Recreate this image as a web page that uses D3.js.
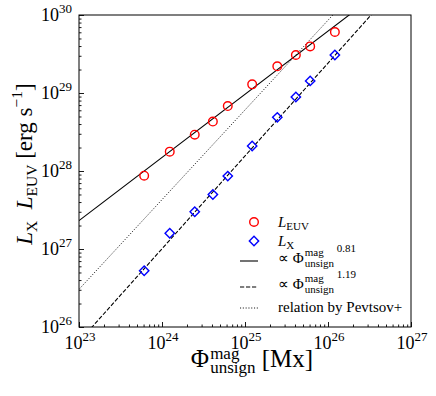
<!DOCTYPE html>
<html>
<head>
<meta charset="utf-8">
<script src="https://cdn.jsdelivr.net/npm/d3@7"></script>
<style>
  html, body { margin: 0; padding: 0; background: #fff; }
</style>
</head>
<body>
<svg id="chart" width="436" height="396"></svg>
<script>
// Unsigned magnetic flux [Mx] of each sample, and the two luminosities [erg/s]
const FLUX  = [6.1e23, 1.24e24, 2.48e24, 4.1e24, 6.2e24, 1.22e25, 2.45e25, 4.1e25, 6.1e25, 1.21e26];
const L_EUV = [8.7e27, 1.77e28, 2.92e28, 4.3e28, 6.8e28, 1.29e29, 2.2e29, 3.07e29, 3.96e29, 6.05e29];
const L_X   = [5.27e26, 1.59e27, 3.0e27, 5.0e27, 8.6e27, 2.09e28, 4.87e28, 8.9e28, 1.43e29, 3.07e29];

// power laws: L = norm * (flux / 1e23)^slope   (euv fit, x fit, Pevtsov+)
const FIT_SLOPE = [0.81, 1.19, 1.15];
const FIT_NORM  = [2.31e27, 6.5e25, 3.04e26];
const FIT_EXP   = ["0.81", "1.19", null];

const X_DECADES = [23, 24, 25, 26, 27];
const Y_DECADES = [26, 27, 28, 29, 30];

// ---------------------------------------------------------------------------
const FONT = "Liberation Serif";
const svg = d3.select("#chart");
const margin = { top: 15, right: 25, bottom: 69, left: 79 };
const W = 436 - margin.left - margin.right;
const H = 396 - margin.top - margin.bottom;

const x = d3.scaleLog().domain([1e23, 1e27]).range([0, W]);
const y = d3.scaleLog().domain([1e26, 1e30]).range([H, 0]);

const g = svg.append("g").attr("transform", `translate(${margin.left},${margin.top})`);

svg.append("defs").append("clipPath").attr("id", "clip")
  .append("rect").attr("width", W).attr("height", H);

// minor ticks 2..9 inside each decade
function minors(decades) {
  const out = [];
  for (let i = 0; i < decades.length - 1; i++)
    for (let k = 2; k <= 9; k++) out.push(k * Math.pow(10, decades[i]));
  return out;
}

function styleAxis(sel) {
  sel.select(".domain").remove();
  sel.selectAll("line").attr("stroke", "#000").attr("stroke-width", 0.9);
}

g.append("g").attr("transform", `translate(0,${H})`)
  .call(d3.axisBottom(x).tickValues(minors(X_DECADES)).tickSize(-2.5).tickFormat(""))
  .call(styleAxis);
g.append("g").attr("transform", `translate(0,${H})`)
  .call(d3.axisBottom(x).tickValues(X_DECADES.map(d => Math.pow(10, d))).tickSize(-5).tickFormat(""))
  .call(styleAxis);
g.append("g")
  .call(d3.axisLeft(y).tickValues(minors(Y_DECADES)).tickSize(-2.5).tickFormat(""))
  .call(styleAxis);
g.append("g")
  .call(d3.axisLeft(y).tickValues(Y_DECADES.map(d => Math.pow(10, d))).tickSize(-5).tickFormat(""))
  .call(styleAxis);

// power-of-ten tick labels
function powLabel(sel, e) {
  sel.attr("font-family", FONT);
  sel.append("tspan").attr("font-size", 18).text("10");
  sel.append("tspan").attr("font-size", 13).attr("dy", -8).text(e);
}
X_DECADES.forEach(e => {
  g.append("text").attr("x", x(Math.pow(10, e)) + 1).attr("y", H + 22)
    .attr("text-anchor", "middle").call(powLabel, e);
});
Y_DECADES.forEach(e => {
  g.append("text").attr("x", -7).attr("y", y(Math.pow(10, e)) + 6)
    .attr("text-anchor", "end").call(powLabel, e);
});

// fit lines
const dashes = [null, "4.2,1.8", "1.1,1.7"];
const lineGen = d3.line().x(d => x(d[0])).y(d => y(d[1]));
const lines = g.append("g").attr("clip-path", "url(#clip)");
FIT_SLOPE.forEach((s, i) => {
  const pts = x.domain().map(f => [f, FIT_NORM[i] * Math.pow(f / 1e23, s)]);
  lines.append("path").attr("d", lineGen(pts))
    .attr("fill", "none").attr("stroke", "#000")
    .attr("stroke-width", i === 2 ? 0.9 : 1.1)
    .attr("stroke-dasharray", dashes[i]);
});

// data markers
const diamond = d3.symbol().type(d3.symbolSquare).size(44);
g.append("g").selectAll("path").data(FLUX.map((f, i) => [f, L_X[i]])).join("path")
  .attr("d", diamond)
  .attr("transform", d => `translate(${x(d[0])},${y(d[1])}) rotate(45)`)
  .attr("fill", "none").attr("stroke", "#0000ff").attr("stroke-width", 1.4);
g.append("g").selectAll("circle").data(FLUX.map((f, i) => [f, L_EUV[i]])).join("circle")
  .attr("cx", d => x(d[0])).attr("cy", d => y(d[1])).attr("r", 4.3)
  .attr("fill", "none").attr("stroke", "#ff0000").attr("stroke-width", 1.4);

// frame
g.append("rect").attr("width", W).attr("height", H)
  .attr("fill", "none").attr("stroke", "#000").attr("stroke-width", 1);

// ---------------------------------------------------------------------------
// little rich-text helper: pieces laid out left to right, `stack` pieces share
// the start x of the piece before them (super + sub stacked)
function rich(parent, x0, y0, pieces) {
  const grp = parent.append("g");
  let cx = x0, lastStart = x0, lastEnd = x0;
  pieces.forEach(p => {
    const start = (p.stack ? lastStart : cx) + (p.dx || 0);
    const t = grp.append("text").attr("x", start).attr("y", y0 + (p.dy || 0))
      .attr("font-family", FONT)
      .attr("font-size", p.s).attr("font-style", p.it ? "italic" : null)
      .attr("xml:space", "preserve").text(p.t);
    const end = start + t.node().getComputedTextLength();
    if (p.stack) { cx = Math.max(lastEnd, end); }
    else { cx = end; }
    lastStart = start; lastEnd = cx;
  });
  grp.width = cx - x0;
  return grp;
}

function phiPieces(big, small, up, down) {
  return [
    { t: "Φ", s: big },
    { t: "mag", s: small, dy: -up, dx: 1 },
    { t: "unsign", s: small, dy: down, stack: true }
  ];
}

// x label
{
  const pieces = phiPieces(25, 17, 8, 6).concat([{ t: " [Mx]", s: 25 }]);
  const lab = rich(svg, 0, 367, pieces);
  lab.attr("transform", `translate(${252 - lab.width / 2},0)`);
}

// y label (rotated)
{
  const lab = rich(svg, 0, 0, [
    { t: "L", s: 23, it: true }, { t: "X", s: 15.5, dy: 5 },
    { t: "  ", s: 23 },
    { t: "L", s: 23, it: true }, { t: "EUV", s: 15.5, dy: 5 },
    { t: " [erg s", s: 23 }, { t: "−1", s: 15.5, dy: -10 }, { t: "]", s: 23 }
  ]);
  lab.attr("transform", `translate(32,${164}) rotate(-90) translate(${-lab.width / 2},0)`);
}

// ---------------------------------------------------------------------------
// legend
const leg = g.append("g");
const lx0 = 254 - margin.left, tx = 278 - margin.left;
const rowY = [222, 241, 261, 287, 308].map(v => v - margin.top);

leg.append("circle").attr("cx", lx0).attr("cy", rowY[0]).attr("r", 4.3)
  .attr("fill", "none").attr("stroke", "#ff0000").attr("stroke-width", 1.4);
leg.append("path").attr("d", diamond)
  .attr("transform", `translate(${lx0},${rowY[1]}) rotate(45)`)
  .attr("fill", "none").attr("stroke", "#0000ff").attr("stroke-width", 1.4);

rich(leg, tx, rowY[0] + 5, [{ t: "L", s: 15, it: true }, { t: "EUV", s: 11, dy: 3 }]);
rich(leg, tx, rowY[1] + 5, [{ t: "L", s: 15, it: true }, { t: "X", s: 11, dy: 3 }]);

FIT_SLOPE.forEach((s, i) => {
  const ry = rowY[2 + i];
  leg.append("line").attr("x1", lx0 - 14).attr("x2", lx0 + 4)
    .attr("y1", ry).attr("y2", ry)
    .attr("stroke", "#000").attr("stroke-width", i === 2 ? 0.9 : 1.1)
    .attr("stroke-dasharray", dashes[i]);
  if (FIT_EXP[i]) {
    rich(leg, tx, ry + 2, [{ t: "∝ ", s: 15 }].concat(phiPieces(15, 11, 7, 4))
      .concat([{ t: " " + FIT_EXP[i], s: 11, dy: -11 }]));
  } else {
    rich(leg, tx, ry + 4, [{ t: "relation by Pevtsov+", s: 15 }]);
  }
});
</script>
</body>
</html>
